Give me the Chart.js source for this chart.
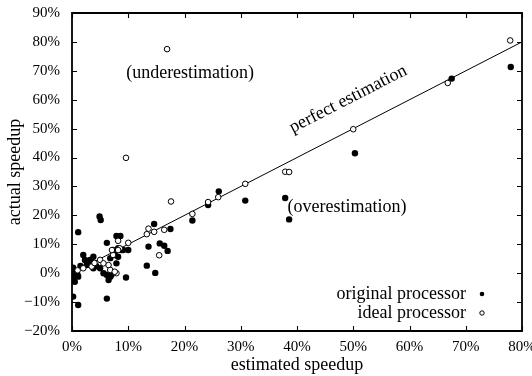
<!DOCTYPE html>
<html>
<head>
<meta charset="utf-8">
<script src="https://cdn.jsdelivr.net/npm/chart.js@4/dist/chart.umd.min.js"></script>
<style>
html,body{margin:0;padding:0;background:#fff;}
#wrap{width:532px;height:376px;position:relative;}
</style>
</head>
<body>
<div id="wrap"><canvas id="c"></canvas></div>
<script>
// original processor (filled dots): estimated speedup %, actual speedup %
const origX = [78.0,67.5,50.3,38.6,37.9,30.8,26.1,24.2,21.4,17.5,17.0,16.4,15.6,14.6,14.8,13.6,13.3,9.6,10.0,9.1,8.8,8.2,7.9,8.2,8.6,7.9,4.9,5.1,1.1,6.2,6.2,1.1,0.2,0.5,0.2,0.3,0.8,1.0,1.1,0.2,2.0,2.3,2.9,3.2,3.5,3.8,2.6,3.8,5.0,5.6,6.2,6.8,7.0,6.5,6.8,7.3,7.6,8.2,4.3,3.0,1.5];
const origY = [71.3,67.3,41.5,18.6,26.0,25.1,28.3,23.6,18.2,15.3,7.7,9.5,10.3,17.0,0.1,9.2,2.6,-1.5,8.0,8.0,8.0,5.7,3.4,12.6,12.9,12.9,19.6,18.4,14.2,10.5,-8.8,-11.0,-8.1,-3.0,1.9,0.0,0.5,-0.6,-1.2,-1.6,6.3,4.6,4.0,4.6,3.4,5.7,2.8,1.7,1.7,0.0,-0.6,-1.2,-0.6,-2.4,5.2,8.0,6.3,8.6,2.5,3.0,2.5];
// ideal processor (open circles)
const idealX = [77.9,66.8,50.0,37.9,38.6,30.8,26.0,24.2,21.4,17.6,16.9,9.6,13.6,13.3,14.6,16.4,15.5,10.0,8.2,8.5,7.9,2.0,3.5,5.0,5.6,6.5,6.8,7.3,8.2,7.6,7.1,4.0,1.0];
const idealY = [80.5,65.8,49.8,35.1,35.0,30.9,26.3,24.6,20.5,24.8,77.5,39.9,15.4,13.5,14.3,15.0,6.2,10.5,11.2,8.6,0.0,1.7,2.3,4.6,3.4,2.8,1.1,6.3,8.0,0.5,8.0,3.5,1.0];
// perfect estimation reference line
const perfectX = [0, 80];
const perfectY = [0, 80];
const xTicks = [0,10,20,30,40,50,60,70,80];
const yTicks = [-20,-10,0,10,20,30,40,50,60,70,80,90];
const seriesNames = ['original processor','ideal processor'];

const FONT = "'Liberation Serif', serif";
const pct = v => (v < 0 ? '\u2212' + Math.abs(v) : v) + '%';
const zip = (xs, ys) => xs.map((x, i) => ({x: x, y: ys[i]}));

const framePlugin = {
  id: 'frame',
  afterDraw(chart) {
    const ctx = chart.ctx, a = chart.chartArea;
    const xs = chart.scales.x, ys = chart.scales.y;
    ctx.save();
    ctx.strokeStyle = '#000';
    ctx.lineWidth = 1.8;
    ctx.beginPath();
    ctx.rect(a.left, a.top, a.right - a.left, a.bottom - a.top);
    ctx.stroke();
    ctx.lineWidth = 1.1;
    const L = 5;
    ctx.beginPath();
    xTicks.forEach(v => {
      const px = Math.round(xs.getPixelForValue(v)) + 0.5;
      ctx.moveTo(px, a.bottom); ctx.lineTo(px, a.bottom - L);
      ctx.moveTo(px, a.top); ctx.lineTo(px, a.top + L);
    });
    yTicks.forEach(v => {
      const py = Math.round(ys.getPixelForValue(v)) + 0.5;
      ctx.moveTo(a.left, py); ctx.lineTo(a.left + L, py);
      ctx.moveTo(a.right, py); ctx.lineTo(a.right - L, py);
    });
    ctx.stroke();

    // annotations
    ctx.fillStyle = '#000';
    ctx.font = "18px " + FONT;
    ctx.textAlign = 'center';
    ctx.textBaseline = 'middle';
    ctx.fillText('(underestimation)', xs.getPixelForValue(21), ys.getPixelForValue(69.3));
    ctx.fillText('(overestimation)', xs.getPixelForValue(48.9), ys.getPixelForValue(22.9));
    const x0 = xs.getPixelForValue(0), y0 = ys.getPixelForValue(0);
    const x1 = xs.getPixelForValue(80), y1 = ys.getPixelForValue(80);
    const ang = Math.atan2(y1 - y0, x1 - x0);
    ctx.save();
    ctx.translate(xs.getPixelForValue(49.1), ys.getPixelForValue(60.2));
    ctx.rotate(ang);
    ctx.fillText('perfect estimation', 0, 0);
    ctx.restore();

    // legend
    ctx.font = "18px " + FONT;
    ctx.textAlign = 'right';
    const tx = a.right - 56, mx = a.right - 40;
    const ly = [a.bottom - 37, a.bottom - 18];
    ctx.fillText(seriesNames[0], tx, ly[0]);
    ctx.fillText(seriesNames[1], tx, ly[1]);
    ctx.beginPath(); ctx.arc(mx, ly[0], 2.3, 0, Math.PI * 2); ctx.fill();
    ctx.beginPath(); ctx.arc(mx, ly[1], 2.2, 0, Math.PI * 2); ctx.lineWidth = 1; ctx.stroke();
    ctx.restore();
  }
};

new Chart(document.getElementById('c'), {
  type: 'scatter',
  data: {
    datasets: [
      {
        type: 'line',
        label: 'perfect estimation',
        data: zip(perfectX, perfectY),
        borderColor: '#000',
        borderWidth: 1,
        pointRadius: 0,
        fill: false,
        order: 3
      },
      {
        label: seriesNames[0],
        data: zip(origX, origY),
        pointRadius: 3.2,
        pointBackgroundColor: '#000',
        pointBorderColor: '#000',
        pointBorderWidth: 0,
        order: 2
      },
      {
        label: seriesNames[1],
        data: zip(idealX, idealY),
        pointRadius: 2.8,
        pointBackgroundColor: '#fff',
        pointBorderColor: '#000',
        pointBorderWidth: 1,
        order: 1
      }
    ]
  },
  options: {
    responsive: true,
    maintainAspectRatio: false,
    animation: false,
    layout: {padding: {top: 13, right: 10, left: 4, bottom: 0}},
    plugins: {legend: {display: false}, tooltip: {enabled: false}},
    scales: {
      x: {
        type: 'linear', min: 0, max: 80,
        afterBuildTicks: s => { s.ticks = xTicks.map(v => ({value: v})); },
        afterFit: s => { s.height = 45; s.paddingLeft = 0; s.paddingRight = 0; },
        grid: {display: false, drawTicks: false},
        border: {display: false},
        ticks: {callback: pct, color: '#000', font: {family: FONT, size: 15}, padding: 7, maxRotation: 0},
        title: {display: true, text: 'estimated speedup', color: '#000', font: {family: FONT, size: 18}, padding: 0}
      },
      y: {
        type: 'linear', min: -20, max: 90,
        afterBuildTicks: s => { s.ticks = yTicks.map(v => ({value: v})); },
        afterFit: s => { s.width = 68; s.paddingTop = 0; s.paddingBottom = 0; },
        grid: {display: false, drawTicks: false},
        border: {display: false},
        ticks: {callback: pct, color: '#000', font: {family: FONT, size: 15}, padding: 12},
        title: {display: true, text: 'actual speedup', color: '#000', font: {family: FONT, size: 18}, padding: 0}
      }
    }
  },
  plugins: [framePlugin]
});
</script>
</body>
</html>
